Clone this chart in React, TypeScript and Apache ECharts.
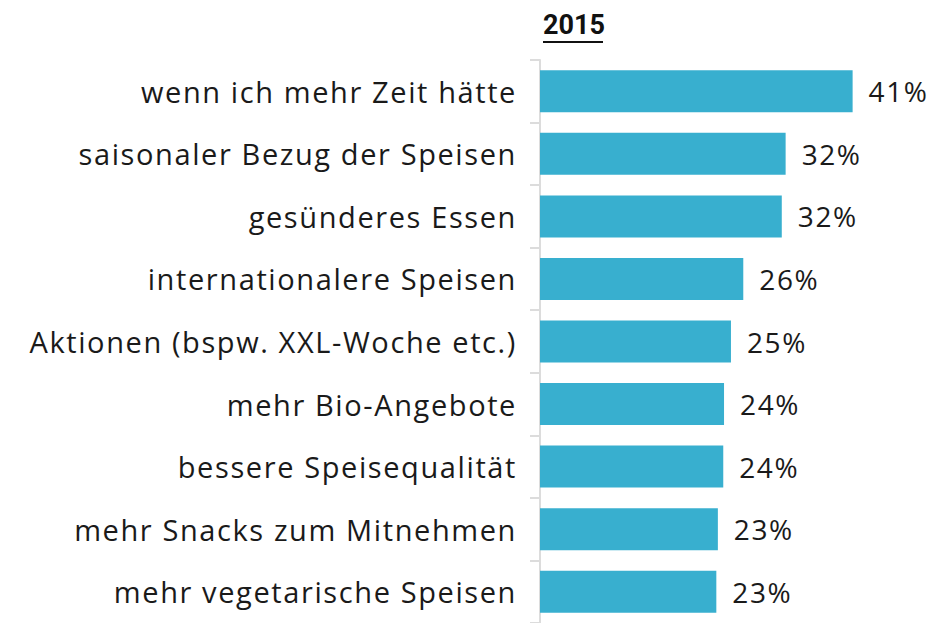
import React, { useEffect, useRef } from "react";
import * as echarts from "echarts";

const categories = [
  "wenn ich mehr Zeit hätte",
  "saisonaler Bezug der Speisen",
  "gesünderes Essen",
  "internationalere Speisen",
  "Aktionen (bspw. XXL-Woche etc.)",
  "mehr Bio-Angebote",
  "bessere Speisequalität",
  "mehr Snacks zum Mitnehmen",
  "mehr vegetarische Speisen",
];
const values = [40.6, 31.9, 31.4, 26.4, 24.8, 23.9, 23.8, 23.1, 22.9];
const labels = ["41%", "32%", "32%", "26%", "25%", "24%", "24%", "23%", "23%"];
const title = "2015";

const FONT = "Open Sans";

export default function App() {
  const ref = useRef<HTMLDivElement>(null);
  useEffect(() => {
    if (!ref.current) return;
    const chart = echarts.init(ref.current, null, { renderer: "svg" });
    chart.setOption({
      animation: false,
      backgroundColor: "#ffffff",
      grid: { left: 540, right: 20, top: 60, bottom: -2, containLabel: false },
      xAxis: {
        type: "value",
        min: 0,
        max: 50,
        show: false,
      },
      yAxis: {
        type: "category",
        data: categories,
        inverse: true,
        axisLine: { show: true, lineStyle: { color: "#dcdcdc", width: 2 } },
        axisTick: { show: true, length: 10, lineStyle: { color: "#dcdcdc", width: 2 } },
        axisLabel: {
          margin: 23,
          fontSize: 29,
          fontFamily: FONT,
          color: "#1a1a1a",
        },
      },
      series: [
        {
          type: "bar",
          data: values,
          barWidth: 42,
          itemStyle: { color: "#38afcf" },
          label: {
            show: true,
            position: "right",
            distance: 16,
            fontSize: 28,
            fontFamily: FONT,
            color: "#1a1a1a",
            formatter: (p: any) => labels[p.dataIndex],
          },
        },
      ],
      graphic: [
        {
          type: "text",
          left: 543,
          top: 11,
          style: {
            text: title,
            fontSize: 27,
            fontWeight: "bold",
            fontFamily: "Roboto",
            fill: "#111",
          },
        },
        {
          type: "line",
          shape: { x1: 543, y1: 42, x2: 603, y2: 42 },
          style: { stroke: "#111", lineWidth: 2 },
        },
      ],
    });
    return () => chart.dispose();
  }, []);
  return (
    <>
      <style>{`.chartbox text { letter-spacing: 1.6px; } .chartbox text[style*="bold"] { letter-spacing: 0; }`}</style>
      <div
        ref={ref}
        className="chartbox"
        style={{ position: "fixed", left: 0, top: 0, width: 945, height: 623 }}
      />
    </>
  );
}
